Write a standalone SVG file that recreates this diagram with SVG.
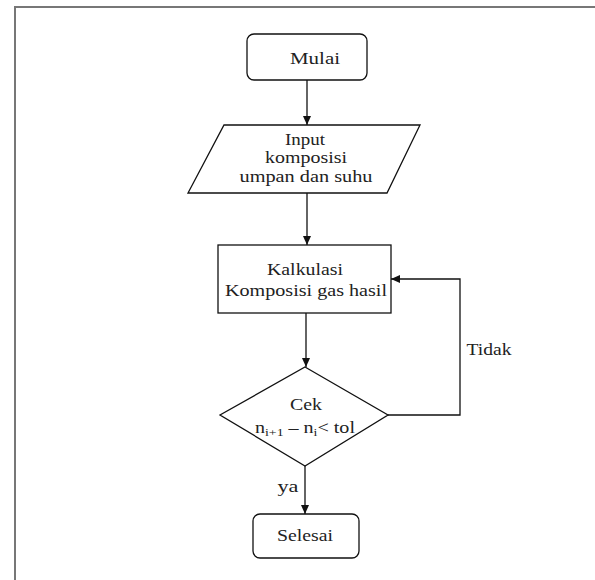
<svg xmlns="http://www.w3.org/2000/svg" width="595" height="580" viewBox="0 0 595 580">
<style>
.shape{fill:#fff;stroke:#111;stroke-width:1.3}
.conn{fill:none;stroke:#111;stroke-width:1.3}
text{font-family:"Liberation Serif","Times New Roman",serif;font-size:17px;fill:#222;text-anchor:middle}
.frame{fill:none;stroke:#777;stroke-width:2}
</style>
<defs>
<marker id="arr" markerWidth="10" markerHeight="8" refX="9" refY="4" orient="auto" markerUnits="userSpaceOnUse">
<path d="M0,0 L9,4 L0,8 Z" fill="#111"/>
</marker>
</defs>
<rect width="595" height="580" fill="#fff"/>
<path class="frame" d="M15,580 V7 H595"/>
<g id="connectors">
<line class="conn" x1="307" y1="80" x2="307" y2="125" marker-end="url(#arr)"/>
<line class="conn" x1="307" y1="193" x2="307" y2="245" marker-end="url(#arr)"/>
<line class="conn" x1="306" y1="313" x2="306" y2="367" marker-end="url(#arr)"/>
<polyline class="conn" points="388,415 460,415 460,279 391,279" marker-end="url(#arr)"/>
<line class="conn" x1="305" y1="466" x2="305" y2="514" marker-end="url(#arr)"/>
<text x="489" y="355" textLength="45" lengthAdjust="spacingAndGlyphs">Tidak</text>
<text x="288" y="492" textLength="21" lengthAdjust="spacingAndGlyphs">ya</text>
</g>
<g id="start">
<rect class="shape" x="247" y="34" width="120" height="46" rx="7"/>
<text x="315" y="64" textLength="50" lengthAdjust="spacingAndGlyphs">Mulai</text>
</g>
<g id="input">
<polygon class="shape" points="224,125 420,125 387,193 188,193"/>
<text x="305" y="145" textLength="40" lengthAdjust="spacingAndGlyphs">Input</text>
<text x="306" y="163" textLength="82" lengthAdjust="spacingAndGlyphs">komposisi</text>
<text x="306" y="182" textLength="133" lengthAdjust="spacingAndGlyphs">umpan dan suhu</text>
</g>
<g id="calc">
<rect class="shape" x="218" y="245" width="173" height="68"/>
<text x="305" y="275" textLength="76" lengthAdjust="spacingAndGlyphs">Kalkulasi</text>
<text x="306" y="296" textLength="162" lengthAdjust="spacingAndGlyphs">Komposisi gas hasil</text>
</g>
<g id="check">
<polygon class="shape" points="305,367 388,415 305,466 220,415"/>
<text x="306" y="410" textLength="32" lengthAdjust="spacingAndGlyphs">Cek</text>
<text x="305" y="433" style="font-size:16px" textLength="100" lengthAdjust="spacingAndGlyphs">n<tspan dy="3" style="font-size:11px">i+1</tspan><tspan dy="-3"> – n</tspan><tspan dy="3" style="font-size:11px">i</tspan><tspan dy="-3">&lt; tol</tspan></text>
</g>
<g id="end">
<rect class="shape" x="253" y="514" width="106" height="44" rx="7"/>
<text x="305" y="541" textLength="56" lengthAdjust="spacingAndGlyphs">Selesai</text>
</g>
</svg>
